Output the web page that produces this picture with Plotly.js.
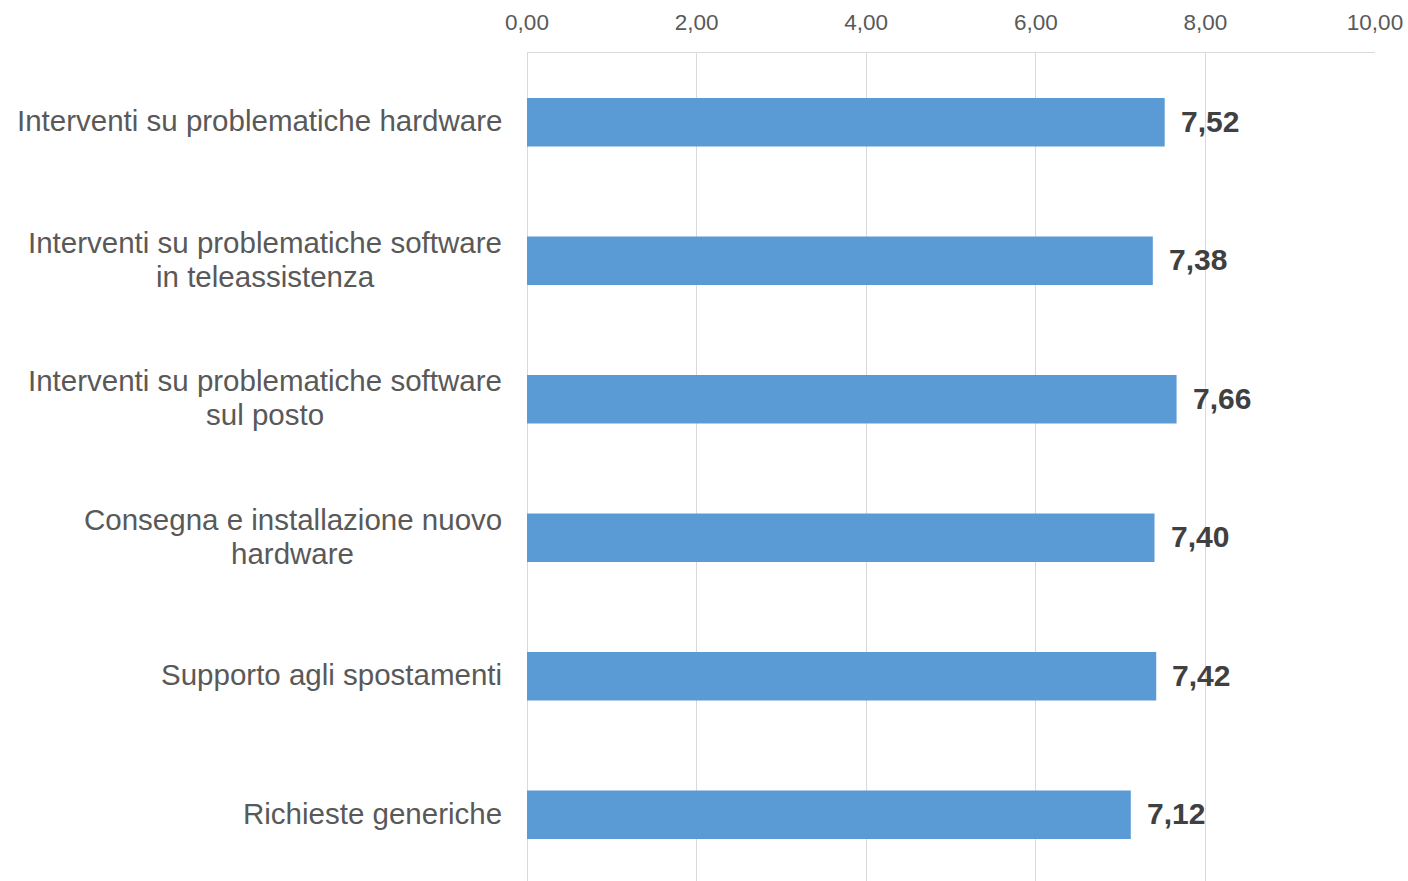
<!DOCTYPE html>
<html>
<head>
<meta charset="utf-8">
<script src="https://cdn.plot.ly/plotly-3.0.1.min.js"></script>
<style>
  html, body { margin: 0; padding: 0; background: #ffffff; }
  #chart { width: 1408px; height: 884px; }
</style>
</head>
<body>
<div id="chart"></div>
<script>
// Satisfaction scores per service category
const categories = [
  "Interventi su problematiche hardware",
  "Interventi su problematiche software<br>in teleassistenza",
  "Interventi su problematiche software<br>sul posto",
  "Consegna e installazione nuovo<br>hardware",
  "Supporto agli spostamenti",
  "Richieste generiche"
];
const scores = [7.52, 7.38, 7.66, 7.40, 7.42, 7.12];
const tickValues = [0, 2, 4, 6, 8, 10];

const FONT = "Liberation Sans, Arial, sans-serif";
const CAT_SIZE = 29.5;
const LINE_GAP = 34;      // distance between lines of a category label
const LABEL_PAD = 25;     // space between labels and the plot area
const fmt = v => v.toFixed(2).replace(".", ",");

const trace = {
  type: "bar",
  orientation: "h",
  x: scores,
  y: categories,
  width: 0.35,
  marker: { color: "#5b9bd5" },
  hoverinfo: "x+y"
};

// Value labels to the right of each bar
const valueLabels = scores.map((v, i) => ({
  x: v, y: categories[i], xref: "x", yref: "y",
  text: fmt(v), showarrow: false,
  xanchor: "left", yanchor: "middle", xshift: 14, yshift: 1,
  font: { family: FONT, size: 30, color: "#404040", weight: "bold" }
}));

// Category labels: each line drawn separately so lines can sit closer
// together; lines are centred on each other and the block is right-aligned
const ctx = document.createElement("canvas").getContext("2d");
ctx.font = CAT_SIZE + "px " + FONT;
const categoryLabels = [];
categories.forEach(c => {
  const lines = c.split("<br>");
  const widest = Math.max(...lines.map(l => ctx.measureText(l).width));
  lines.forEach((line, k) => {
    categoryLabels.push({
      x: 0, y: c, xref: "paper", yref: "y",
      text: line, showarrow: false,
      xanchor: "center", yanchor: "middle",
      xshift: -(LABEL_PAD + widest / 2),
      yshift: ((lines.length - 1) / 2 - k) * LINE_GAP + 1.5,
      font: { family: FONT, size: CAT_SIZE, color: "#595959" }
    });
  });
});

const layout = {
  width: 1408, height: 884,
  margin: { l: 527, r: 33, t: 53, b: 0 },
  paper_bgcolor: "#ffffff", plot_bgcolor: "#ffffff",
  separators: ",.",
  showlegend: false,
  font: { family: FONT, color: "#595959" },
  xaxis: {
    side: "top",
    range: [0, 10],
    tickvals: tickValues,
    tickformat: ".2f",
    ticks: "",
    showgrid: true, gridcolor: "#d9d9d9", gridwidth: 1,
    zeroline: true, zerolinecolor: "#d9d9d9", zerolinewidth: 1,
    showline: true, linecolor: "#d9d9d9", linewidth: 1,
    tickfont: { family: FONT, size: 22.5, color: "#595959" },
    ticklabelstandoff: 13,
    fixedrange: true
  },
  yaxis: {
    type: "category",
    autorange: "reversed",
    showticklabels: false,
    ticks: "",
    showgrid: false, zeroline: false, showline: false,
    fixedrange: true
  },
  annotations: valueLabels.concat(categoryLabels)
};

Plotly.newPlot("chart", [trace], layout, { displayModeBar: false, staticPlot: true });
</script>
</body>
</html>
